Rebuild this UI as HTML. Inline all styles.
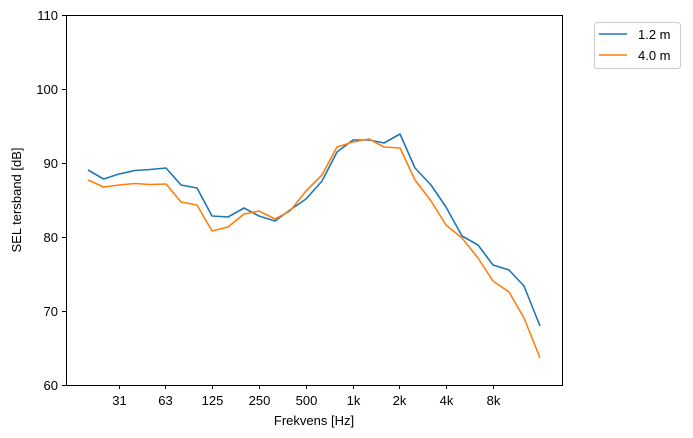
<!DOCTYPE html>
<html><head><style>body{margin:0;background:#fff}svg{display:block;font-family:"Liberation Sans",sans-serif}</style></head>
<body>
<svg width="693" height="438" viewBox="0 0 693 438">
<rect x="0" y="0" width="693" height="438" fill="#fff"/>
<g font-size="13" fill="#000">
<!-- y ticks -->
<g stroke="#000" stroke-width="1">
<line x1="62" y1="385.5" x2="66" y2="385.5"/><line x1="62" y1="311.5" x2="66" y2="311.5"/>
<line x1="62" y1="237.5" x2="66" y2="237.5"/><line x1="62" y1="163.5" x2="66" y2="163.5"/>
<line x1="62" y1="89.5" x2="66" y2="89.5"/><line x1="62" y1="15.5" x2="66" y2="15.5"/>
<line x1="119.5" y1="385" x2="119.5" y2="389"/><line x1="165.5" y1="385" x2="165.5" y2="389"/>
<line x1="212.5" y1="385" x2="212.5" y2="389"/><line x1="259.5" y1="385" x2="259.5" y2="389"/>
<line x1="306.5" y1="385" x2="306.5" y2="389"/><line x1="353.5" y1="385" x2="353.5" y2="389"/>
<line x1="399.5" y1="385" x2="399.5" y2="389"/><line x1="446.5" y1="385" x2="446.5" y2="389"/>
<line x1="493.5" y1="385" x2="493.5" y2="389"/>
</g>
<g text-anchor="end">
<text x="58" y="390">60</text><text x="58" y="316">70</text><text x="58" y="242">80</text>
<text x="58" y="168">90</text><text x="58" y="94">100</text><text x="58" y="20">110</text>
</g>
<g text-anchor="middle">
<text x="119.5" y="405">31</text><text x="165.5" y="405">63</text><text x="212.5" y="405">125</text>
<text x="259.5" y="405">250</text><text x="306.5" y="405">500</text><text x="353.5" y="405">1k</text>
<text x="399.5" y="405">2k</text><text x="446.5" y="405">4k</text><text x="493.5" y="405">8k</text>
<text x="314" y="425">Frekvens [Hz]</text>
<text transform="translate(21,200) rotate(-90)">SEL tersband [dB]</text>
</g>
</g>
<polyline fill="none" stroke="#1f77b4" stroke-width="1.6" stroke-linejoin="round" points="88,170 103.6,179 119,174 135,170.5 150,169.5 166,168 181,185 197,188 212,216 228,217 244,208 259,216 275,221 290,210 306,199 322,181 337,152 353,140 369,140 384,143 400,134 415,168 431,185 446,207 462,236 478,245 493,265 509,270 524,286 540,326"/>
<polyline fill="none" stroke="#ff7f0e" stroke-width="1.6" stroke-linejoin="round" points="88,180 103.6,187 119,185 135,183.5 150,184.5 166,184 181,202 197,205 212,231 228,227 244,214 259,211 275,219 290,211 306,191 322,175 337,147 353,142 369,139 384,147 400,148 415,180 431,201 446,225 462,238 478,258 493,281 509,292 524,318 540,358"/>
<rect x="66.5" y="15.5" width="496" height="370" fill="none" stroke="#000" stroke-width="1"/>
<rect x="594.5" y="22.5" width="86" height="46" rx="3" fill="#fff" stroke="#ccc"/>
<line x1="599" y1="34" x2="627" y2="34" stroke="#1f77b4" stroke-width="1.6"/>
<line x1="599" y1="55" x2="627" y2="55" stroke="#ff7f0e" stroke-width="1.6"/>
<text x="638" y="39" font-size="13">1.2 m</text>
<text x="638" y="60" font-size="13">4.0 m</text>
</svg>
</body></html>
